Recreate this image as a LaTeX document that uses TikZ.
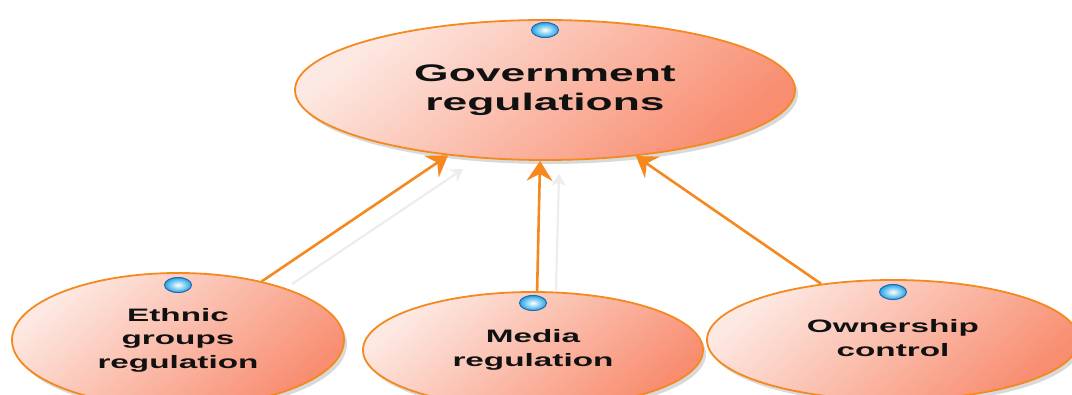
\documentclass[tikz,border=0pt]{standalone}
\usepackage{fontspec}
\setmainfont{Liberation Sans}
\usetikzlibrary{arrows.meta,shapes.geometric,shadows}
\definecolor{ringor}{HTML}{F5891F}
\definecolor{filllight}{HTML}{FDE9E3}
\definecolor{filldark}{HTML}{F88D70}
\definecolor{dotblue}{HTML}{2F7FD8}
\definecolor{txt}{HTML}{111111}
\newcommand{\stretchtxt}[3]{\scalebox{1.85}[1]{\fontsize{#1}{#2}\selectfont\bfseries\begin{tabular}{@{}c@{}}#3\end{tabular}}}
\tikzset{
  bubble/.style={ellipse, draw=ringor, line width=1.8pt, inner sep=0pt,
    top color=filllight, bottom color=filldark, shading angle=40,
    text=txt, drop shadow={shadow xshift=3pt, shadow yshift=-4pt, opacity=0.15, fill=black}},
  knob/.style={ellipse, draw=dotblue!80!black, line width=1pt, inner sep=0pt,
    minimum width=27pt, minimum height=15pt, inner color=white, outer color=dotblue!70!cyan},
  link/.style={draw=ringor, line width=2.6pt, -{Stealth[length=20pt,width=26pt,inset=7pt]}},
  ghost/.style={draw=black!7, line width=2.2pt, -{Stealth[length=12pt,width=15pt,inset=4pt]}}
}
\begin{document}
\begin{tikzpicture}[x=1pt,y=1pt]
\useasboundingbox (0,0) rectangle (1072,394);
\clip (0,0) rectangle (1072,394);
\fill[white] (0,0) rectangle (1072,394);
% ghost shadow connectors
\coordinate (g1s) at (292,110);
\coordinate (g1e) at (463,225);
\coordinate (g2s) at (556,104);
\coordinate (g2e) at (559,220);
\draw[ghost] (g1s) -- (g1e);
\draw[ghost] (g2s) -- (g2e);
% nodes
\node[bubble, minimum width=500pt, minimum height=140pt] (gov) at (545,304)
  {\raisebox{1pt}{\stretchtxt{24}{29}{Government\\regulations}}};
\node[bubble, minimum width=332pt, minimum height=134pt] (eth) at (178,54)
  {\stretchtxt{18}{23.5}{Ethnic\\groups\\regulation}};
\node[bubble, minimum width=340pt, minimum height=116pt] (med) at (533,44)
  {\raisebox{5pt}{\stretchtxt{18}{23.5}{Media\\regulation}}};
\node[bubble, minimum width=372pt, minimum height=120pt] (own) at (893,54)
  {\raisebox{5pt}{\stretchtxt{18}{23.5}{Ownership\\control}}};
% blue knobs
\node[knob] (k1) at (545,364) {};
\node[knob] (k2) at (178,109) {};
\node[knob] (k3) at (533,91) {};
\node[knob] (k4) at (893,102) {};
% connectors
\draw[link] (eth.35.5) -- (gov.214.8);
\draw[link] (med.86) -- (gov.266);
\draw[link] (own.142.8) -- (gov.324.7);
\end{tikzpicture}
\end{document}
